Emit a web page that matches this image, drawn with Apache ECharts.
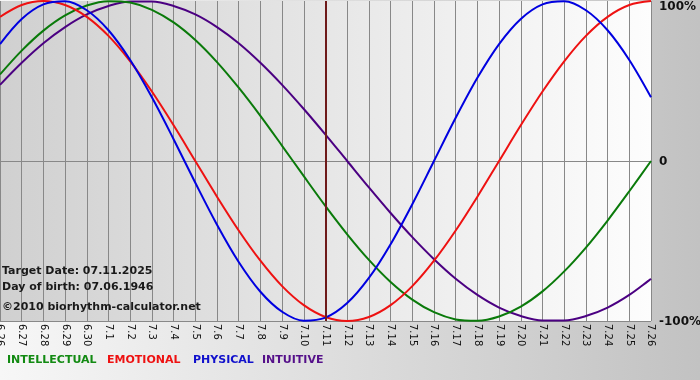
<!DOCTYPE html>
<html>
<head>
<meta charset="utf-8">
<script src="https://cdn.jsdelivr.net/npm/echarts@6/dist/echarts.min.js"></script>
<style>html,body{margin:0;padding:0;}#c{width:700px;height:380px;}</style>
</head>
<body>
<div id="c"></div>
<script>
var days = ['6.26','6.27','6.28','6.29','6.30','7.1','7.2','7.3','7.4','7.5','7.6','7.7','7.8','7.9','7.10','7.11','7.12','7.13','7.14','7.15','7.16','7.17','7.18','7.19','7.20','7.21','7.22','7.23','7.24','7.25','7.26'];
var intellectual = [54.1,69.0,81.5,91.0,97.2,99.9,99.0,94.5,86.6,75.6,61.8,45.8,28.2,9.5,-9.5,-28.2,-45.8,-61.8,-75.6,-86.6,-94.5,-99.0,-99.9,-97.2,-91.0,-81.5,-69.0,-54.1,-37.2,-18.9,0];
var emotional = [90.1,97.5,100,97.5,90.1,78.2,62.3,43.4,22.3,0,-22.3,-43.4,-62.3,-78.2,-90.1,-97.5,-100,-97.5,-90.1,-78.2,-62.3,-43.4,-22.3,0,22.3,43.4,62.3,78.2,90.1,97.5,100];
var physical = [73.1,88.8,97.9,99.8,94.2,81.7,63.1,39.8,13.6,-13.6,-39.8,-63.1,-81.7,-94.2,-99.8,-97.9,-88.8,-73.1,-52.0,-27.0,0,27.0,52.0,73.1,88.8,97.9,99.8,94.2,81.7,63.1,39.8];
var intuitive = [47.6,61.4,73.6,83.7,91.6,96.9,99.7,99.7,96.9,91.6,83.7,73.6,61.4,47.6,32.5,16.5,0,-16.5,-32.5,-47.6,-61.4,-73.6,-83.7,-91.6,-96.9,-99.7,-99.7,-96.9,-91.6,-83.7,-73.6];
var targetDay = '7.11';
var yTicks = {'100':'100%','0':'0','-100':'-100%'};

var chart = echarts.init(document.getElementById('c'), null, {renderer:'canvas'});
var F = '"DejaVu Sans", Verdana, sans-serif';
function line(name, data, color) {
  return {name:name, type:'line', data:data, smooth:0.33, symbol:'none',
    lineStyle:{color:color, width:2}, itemStyle:{color:color}, z:3};
}
var series = [
  line('INTUITIVE', intuitive, '#4b0082'),
  line('INTELLECTUAL', intellectual, '#0a7a0a'),
  line('EMOTIONAL', emotional, '#ee1111'),
  line('PHYSICAL', physical, '#0000e0')
];
series[0].markLine = {symbol:'none', silent:true, label:{show:false},
  lineStyle:{color:'#6e1a1a', width:2, type:'solid'}, data:[{xAxis:targetDay}]};

chart.setOption({
  animation:false,
  backgroundColor:{type:'linear',x:0,y:0,x2:1,y2:0,colorStops:[{offset:0,color:'#f7f7f7'},{offset:1,color:'#c2c2c2'}]},
  grid:{left:0, right:49, top:1, bottom:59, show:true, borderWidth:0, containLabel:false, outerBoundsMode:'none',
    backgroundColor:{type:'linear',x:0,y:0,x2:1,y2:0,colorStops:[{offset:0,color:'#d0d0d0'},{offset:1,color:'#fdfdfd'}]}},
  xAxis:{type:'category', data:days, boundaryGap:false,
    axisLine:{show:true, lineStyle:{color:'#888', width:1}},
    axisTick:{show:true, length:5, interval:0, lineStyle:{color:'#888'}},
    splitLine:{show:true, interval:0, lineStyle:{color:'#888', width:1}},
    axisLabel:{interval:0, rotate:-90, margin:3, fontSize:10, fontFamily:F, color:'#111'}},
  yAxis:{type:'value', min:-100, max:100, interval:100, position:'right',
    axisLine:{show:false}, axisTick:{show:false},
    splitLine:{show:true, lineStyle:{color:['#888','#888','rgba(0,0,0,0)'], width:1}},
    axisLabel:{margin:8, fontSize:12, fontWeight:'bold', fontFamily:F, color:'#111',
      formatter:function(v){ return v === 100 ? '{top|' + yTicks[String(v)] + '}' : '{n|' + yTicks[String(v)] + '}'; },
      rich:{
        top:{fontSize:12, fontWeight:'bold', fontFamily:F, color:'#111', padding:[12,0,0,0]},
        n:{fontSize:12, fontWeight:'bold', fontFamily:F, color:'#111', padding:[2,0,0,0]}
      }}},
  series:series,
  graphic:[
    {type:'text', left:2, top:266, z:10, style:{text:'Target Date: 07.11.2025', font:'bold 11px '+F, fill:'#1a1a1a'}},
    {type:'text', left:2, top:282, z:10, style:{text:'Day of birth: 07.06.1946', font:'bold 11px '+F, fill:'#1a1a1a'}},
    {type:'text', left:2, top:302, z:10, style:{text:'\u00a92010 biorhythm-calculator.net', font:'bold 11px '+F, fill:'#1a1a1a'}},
    {type:'text', left:7, top:355, style:{text:'INTELLECTUAL', font:'bold 11px '+F, fill:'#128a12'}},
    {type:'text', left:107, top:355, style:{text:'EMOTIONAL', font:'bold 11px '+F, fill:'#ee1111'}},
    {type:'text', left:193, top:355, style:{text:'PHYSICAL', font:'bold 11px '+F, fill:'#1010cc'}},
    {type:'text', left:262, top:355, style:{text:'INTUITIVE', font:'bold 11px '+F, fill:'#55108a'}}
  ]
});
</script>
</body>
</html>
